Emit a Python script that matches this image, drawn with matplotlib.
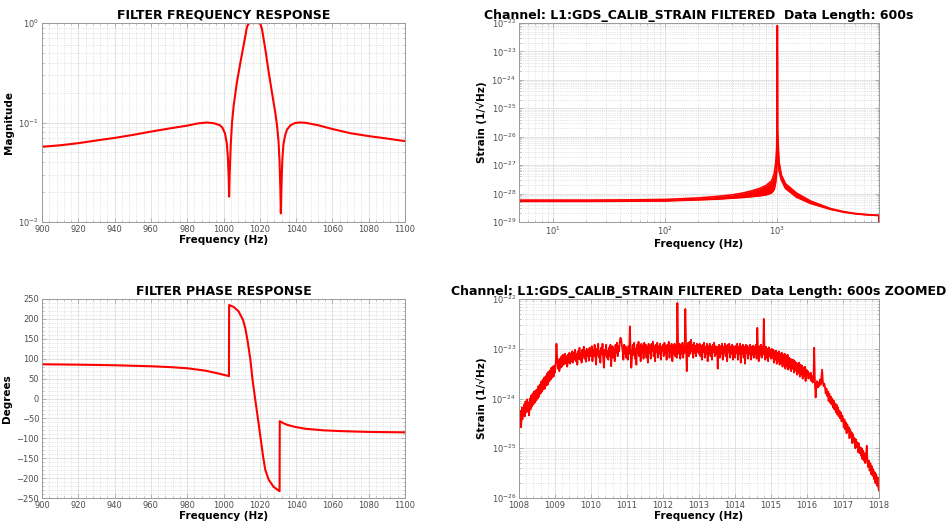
import numpy as np
import matplotlib
matplotlib.use("Agg")
import matplotlib.pyplot as plt
from matplotlib import ticker

# filter magnitude response (Hz, |H|)
mag_freq = [900, 910, 920, 930, 940, 950, 960, 970, 980, 986,
            991, 995, 998, 999.5, 1000.8, 1001.8, 1002.4, 1002.8, 1003.1, 1003.4,
            1004.0, 1004.7, 1005.6, 1007.4, 1009.3, 1011.1, 1012.2, 1012.9, 1013.8, 1014.8,
            1016.5, 1018.5, 1019.5, 1020.3, 1021.2, 1023.0, 1024.8, 1026.7, 1028.5, 1029.5,
            1030.3, 1030.9, 1031.3, 1031.6, 1031.9, 1032.4, 1033.0, 1034.0, 1035.0, 1037.0,
            1039.5, 1042.0, 1045, 1052, 1060, 1070, 1080, 1090, 1100]
mag_vals = [0.057, 0.059, 0.062, 0.066, 0.070, 0.075, 0.081, 0.087, 0.093, 0.098,
            0.100, 0.098, 0.094, 0.088, 0.078, 0.062, 0.045, 0.030, 0.018, 0.030,
            0.060, 0.100, 0.148, 0.255, 0.40, 0.60, 0.77, 0.91, 0.985, 1.0,
            1.0, 1.0, 0.995, 0.985, 0.87, 0.55, 0.33, 0.20, 0.127, 0.093,
            0.065, 0.040, 0.022, 0.0122, 0.022, 0.042, 0.060, 0.075, 0.085, 0.094,
            0.099, 0.100, 0.0995, 0.094, 0.086, 0.078, 0.073, 0.069, 0.065]

# filter phase response (Hz, degrees)
ph_freq = [900, 920, 940, 960, 970, 980, 985, 990, 995, 998,
           1000.5, 1002.5, 1003.0, 1003.1, 1005.6, 1008.3, 1010.7, 1012.0, 1013.3, 1014.8,
           1016.0, 1017.5, 1018.8, 1020.3, 1021.8, 1023.0, 1024.9, 1027.6, 1030.9, 1031.0,
           1033, 1035, 1039, 1045, 1055, 1065, 1080, 1100]
ph_vals = [86, 85, 83.5, 81, 79, 76, 73, 70, 65, 62,
           59, 57, 56, 235, 230, 219, 198, 177, 144, 98,
           47, -3, -45, -95, -145, -179, -204, -222, -233, -57,
           -62, -66, -71, -76, -80, -82, -84, -85]

# filtered strain ASD, full band: lower / upper edge of the trace, in units of 1e-29
asd_freq = [5, 10, 20, 50, 100, 200, 300, 400, 500, 600,
            700, 800, 900, 950, 980, 1000, 1005, 1008, 1010, 1012.4,
            1014, 1016, 1018, 1020, 1030, 1050, 1100, 1200, 1500, 2000,
            3000, 4000, 5000, 6000, 7000, 8000, 8190, 8192]
asd_low = [5.3, 5.3, 5.3, 5.4, 5.5, 6.0, 6.4, 6.9, 7.3, 7.8,
           8.3, 9.0, 10.5, 14, 25, 60, 300, 4e4, 1e6, 8e6,
           1e6, 5e5, 2e3, 300, 150, 60, 30, 15, 7.5, 4.5,
           2.8, 2.2, 1.95, 1.82, 1.75, 1.7, 1.7, 1.05]
asd_high = [5.9, 5.9, 5.9, 6.0, 6.2, 7.0, 8.0, 9.0, 10.5, 12.5,
            15, 19, 28, 50, 120, 400, 1500, 4e4, 1e6, 8e6,
            1e6, 5e5, 2e3, 1500, 600, 130, 45, 22, 10.5, 5.5,
            3.0, 2.3, 2.0, 1.86, 1.78, 1.72, 1.72, 1.05]

# zoomed ASD, 1008-1018 Hz in 0.02 Hz bins, log10(strain)
zoom_f0, zoom_f1 = 1008.0, 1018.0
zoom_log_asd = [
    # 1008.00
    -24.35, -24.55, -24.25, -24.58, -24.18, -24.42, -24.28, -24.12, -24.36, -24.06,
    -24.28, -24.02, -24.26, -24.08, -24.34, -24.00, -24.22, -23.94, -24.16, -23.90,
    -24.12, -23.86, -24.08, -23.84, -24.04,
    # 1008.50
    -23.82, -24.00, -23.75, -23.96, -23.72, -23.90, -23.66, -23.86, -23.62, -23.82,
    -23.58, -23.80, -23.55, -23.74, -23.50, -23.72, -23.46, -23.66, -23.44, -23.62,
    -23.38, -23.58, -23.36, -23.56, -23.34,
    # 1009.00
    -23.48, -23.28, -22.90, -23.18, -23.40, -23.22, -23.45, -23.20, -23.38, -23.15,
    -23.35, -23.12, -23.32, -23.18, -23.10, -23.30, -23.15, -23.36, -23.12, -23.28,
    -23.08, -23.30, -23.10, -23.26, -23.05,
    # 1009.50
    -23.28, -23.08, -23.22, -23.02, -23.25, -23.10, -23.32, -23.05, -23.20, -22.98,
    -23.22, -23.08, -23.28, -23.02, -23.15, -22.96, -23.20, -23.05, -23.26, -23.00,
    -23.15, -23.02, -23.24, -22.98, -23.12,
    # 1010.00
    -23.15, -22.95, -23.25, -23.02, -23.15, -22.92, -23.10, -23.32, -23.00, -23.12,
    -22.90, -23.18, -23.05, -23.28, -22.98, -23.10, -22.90, -23.20, -23.38, -23.02,
    -23.12, -22.92, -23.18, -23.05, -23.22,
    # 1010.50
    -22.98, -23.15, -22.92, -23.35, -23.08, -22.95, -23.18, -23.00, -23.25, -22.92,
    -23.08, -22.88, -23.15, -22.95, -23.05, -22.85, -22.78, -22.82, -22.95, -23.05,
    -23.22, -22.92, -23.10, -22.95, -23.18,
    # 1011.00
    -23.00, -23.22, -22.95, -23.10, -22.55, -23.05, -23.38, -23.15, -22.92, -23.12,
    -22.88, -23.20, -23.00, -23.32, -22.92, -23.08, -22.86, -23.15, -22.95, -23.25,
    -22.90, -23.08, -22.94, -23.20, -22.88,
    # 1011.50
    -23.08, -22.92, -23.18, -22.96, -23.28, -22.90, -23.08, -22.94, -23.20, -22.90,
    -23.05, -22.86, -23.15, -22.95, -23.25, -22.92, -23.06, -22.88, -23.18, -22.95,
    -23.10, -22.90, -23.22, -22.96, -23.05,
    # 1012.00
    -22.92, -23.15, -22.88, -23.08, -22.95, -23.22, -22.92, -23.05, -22.86, -23.18,
    -22.95, -23.08, -22.90, -23.25, -22.94, -23.10, -22.90, -23.15, -22.95, -23.18,
    -22.08, -22.95, -23.10, -22.90, -23.20,
    # 1012.50
    -22.94, -23.10, -22.88, -23.18, -22.96, -23.08, -22.20, -22.95, -23.45, -23.05,
    -22.88, -23.15, -22.86, -23.10, -22.82, -23.05, -22.92, -23.18, -22.88, -23.08,
    -22.94, -23.15, -22.90, -23.06, -22.92,
    # 1013.00
    -23.10, -22.90, -23.15, -22.94, -23.22, -22.92, -23.06, -22.88, -23.18, -22.96,
    -23.10, -22.90, -23.25, -22.95, -23.08, -22.90, -23.15, -22.96, -23.22, -22.92,
    -23.06, -22.88, -23.15, -22.95, -23.10,
    # 1013.50
    -22.96, -23.40, -23.08, -22.92, -23.18, -22.95, -23.10, -22.90, -23.22, -22.96,
    -23.08, -22.90, -23.15, -22.94, -23.25, -22.92, -23.06, -22.90, -23.18, -22.96,
    -23.10, -22.92, -23.22, -22.95, -23.08,
    # 1014.00
    -23.18, -22.94, -23.08, -22.90, -23.22, -22.96, -23.10, -22.90, -23.28, -22.95,
    -23.10, -22.92, -23.18, -22.96, -23.30, -22.92, -23.08, -22.94, -23.20, -22.97,
    -23.10, -22.92, -23.22, -22.96, -23.12,
    # 1014.50
    -22.94, -23.18, -22.96, -23.10, -22.92, -23.20, -22.58, -23.05, -23.25, -22.95,
    -23.12, -22.92, -23.18, -22.96, -23.12, -22.40, -23.02, -23.22, -22.96, -23.18,
    -23.00, -23.25, -22.97, -23.15, -23.02,
    # 1015.00
    -23.20, -23.00, -23.18, -23.02, -23.28, -23.05, -23.22, -23.04, -23.30, -23.08,
    -23.25, -23.05, -23.32, -23.10, -23.28, -23.08, -23.36, -23.12, -23.30, -23.10,
    -23.40, -23.15, -23.34, -23.12, -23.42,
    # 1015.50
    -23.18, -23.38, -23.20, -23.45, -23.22, -23.40, -23.22, -23.48, -23.25, -23.44,
    -23.28, -23.52, -23.30, -23.48, -23.28, -23.56, -23.32, -23.52, -23.34, -23.60,
    -23.38, -23.55, -23.36, -23.65, -23.42,
    # 1016.00
    -23.52, -23.45, -23.60, -23.50, -23.58, -23.48, -23.65, -23.55, -23.68, -23.58,
    -22.98, -23.70, -23.98, -23.72, -23.65, -23.78, -23.68, -23.75, -23.62, -23.72,
    -23.58, -23.42, -23.66, -23.75, -23.70,
    # 1016.50
    -23.78, -23.90, -23.80, -23.95, -23.86, -24.05, -23.90, -24.08, -23.96, -24.12,
    -24.00, -24.18, -24.04, -24.22, -24.10, -24.28, -24.12, -24.32, -24.18, -24.36,
    -24.24, -24.40, -24.28, -24.46, -24.34,
    # 1017.00
    -24.40, -24.58, -24.42, -24.62, -24.48, -24.70, -24.52, -24.66, -24.58, -24.80,
    -24.62, -24.76, -24.68, -24.90, -24.72, -24.86, -24.80, -25.00, -24.82, -24.98,
    -24.88, -25.08, -24.90, -25.10, -24.98,
    # 1017.50
    -25.15, -25.00, -25.22, -25.05, -25.25, -25.10, -25.30, -25.15, -24.95, -25.25,
    -25.38, -25.25, -25.45, -25.30, -25.52, -25.36, -25.55, -25.42, -25.62, -25.48,
    -25.70, -25.52, -25.75, -25.58, -25.78,
    # 1018.00
    -25.85,
]

RED = "#ff0000"
LABEL_COLOR = "#4d4d4d"
SPINE_COLOR = "#9a9a9a"


def style_axes(ax, title, ylabel):
    ax.set_title(title, fontsize=9, fontweight="bold", pad=3)
    ax.set_xlabel("Frequency (Hz)", fontsize=7.5, fontweight="bold", labelpad=1)
    ax.set_ylabel(ylabel, fontsize=7.5, fontweight="bold", labelpad=3)
    ax.grid(True, which="major", color="#dedede", lw=0.6, ls="-")
    ax.grid(True, which="minor", color="#cfcfcf", lw=0.5, ls=":")
    ax.set_axisbelow(True)
    ax.tick_params(which="both", direction="in", top=True, right=True,
                   labelsize=6, colors=SPINE_COLOR, labelcolor=LABEL_COLOR, pad=2)
    ax.tick_params(which="major", length=3, width=0.5)
    ax.tick_params(which="minor", length=1.5, width=0.4)
    for s in ax.spines.values():
        s.set_color(SPINE_COLOR)
        s.set_linewidth(0.7)


def log_minor(ax, axis="y"):
    loc = ticker.LogLocator(base=10, subs=np.arange(2, 10), numticks=100)
    getattr(ax, axis + "axis").set_minor_locator(loc)
    getattr(ax, axis + "axis").set_minor_formatter(ticker.NullFormatter())


fig = plt.figure(figsize=(9.49, 5.29), dpi=100)

left_x, left_w = 42 / 949, 363 / 949
right_x, right_w = 519 / 949, 360 / 949
top_y, bot_y, row_h = 1 - 222 / 529, 1 - 498 / 529, 199 / 529

# magnitude response
ax1 = fig.add_axes([left_x, top_y, left_w, row_h])
ax1.semilogy(mag_freq, mag_vals, color=RED, lw=1.5)
ax1.set_xlim(900, 1100)
ax1.set_ylim(1e-2, 1e0)
ax1.xaxis.set_major_locator(ticker.MultipleLocator(20))
ax1.xaxis.set_minor_locator(ticker.MultipleLocator(4))
ax1.yaxis.set_major_locator(ticker.LogLocator(base=10, numticks=10))
log_minor(ax1)
style_axes(ax1, "FILTER FREQUENCY RESPONSE", "Magnitude")

# phase response
ax3 = fig.add_axes([left_x, bot_y, left_w, row_h])
ax3.plot(ph_freq, ph_vals, color=RED, lw=1.5)
ax3.set_xlim(900, 1100)
ax3.set_ylim(-250, 250)
ax3.xaxis.set_major_locator(ticker.MultipleLocator(20))
ax3.xaxis.set_minor_locator(ticker.MultipleLocator(4))
ax3.yaxis.set_major_locator(ticker.MultipleLocator(50))
ax3.yaxis.set_minor_locator(ticker.MultipleLocator(10))
style_axes(ax3, "FILTER PHASE RESPONSE", "Degrees")

# full-band filtered strain
ax2 = fig.add_axes([right_x, top_y, right_w, row_h])
lo = np.array(asd_low) * 1e-29
hi = np.array(asd_high) * 1e-29
ax2.fill_between(asd_freq, lo, hi, color=RED, lw=0)
ax2.plot(asd_freq, lo, color=RED, lw=1.2)
ax2.plot(asd_freq, hi, color=RED, lw=1.2)
ax2.set_xscale("log")
ax2.set_yscale("log")
ax2.set_xlim(5, 8192)
ax2.set_ylim(1e-29, 1e-22)
ax2.yaxis.set_major_locator(ticker.LogLocator(base=10, numticks=20))
log_minor(ax2, "x")
log_minor(ax2, "y")
style_axes(ax2, "Channel: L1:GDS_CALIB_STRAIN FILTERED  Data Length: 600s",
           "Strain (1/\u221aHz)")

# zoomed filtered strain
ax4 = fig.add_axes([right_x, bot_y, right_w, row_h])
zoom_freq = np.linspace(zoom_f0, zoom_f1, len(zoom_log_asd))
ax4.semilogy(zoom_freq, 10.0 ** np.array(zoom_log_asd), color=RED, lw=1.3)
ax4.set_xlim(zoom_f0, zoom_f1)
ax4.set_ylim(1e-26, 1e-22)
ax4.xaxis.set_major_locator(ticker.MultipleLocator(1))
ax4.xaxis.set_minor_locator(ticker.MultipleLocator(0.2))
ax4.xaxis.set_major_formatter(ticker.FormatStrFormatter("%d"))
ax4.yaxis.set_major_locator(ticker.LogLocator(base=10, numticks=20))
log_minor(ax4)
style_axes(ax4, "Channel: L1:GDS_CALIB_STRAIN FILTERED  Data Length: 600s ZOOMED",
           "Strain (1/\u221aHz)")

fig.savefig("out.png", dpi=100)
